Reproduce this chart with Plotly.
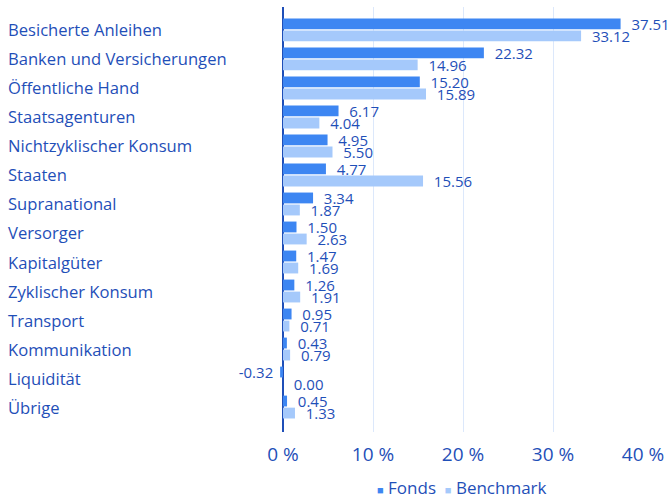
import plotly.graph_objects as go

categories = ["Besicherte Anleihen", "Banken und Versicherungen", "Öffentliche Hand",
              "Staatsagenturen", "Nichtzyklischer Konsum", "Staaten", "Supranational",
              "Versorger", "Kapitalgüter", "Zyklischer Konsum", "Transport",
              "Kommunikation", "Liquidität", "Übrige"]
fonds = [37.51, 22.32, 15.20, 6.17, 4.95, 4.77, 3.34, 1.50, 1.47, 1.26, 0.95, 0.43, -0.32, 0.45]
benchmark = [33.12, 14.96, 15.89, 4.04, 5.50, 15.56, 1.87, 2.63, 1.69, 1.91, 0.71, 0.79, 0.00, 1.33]
x_ticks = [0, 10, 20, 30, 40]
x_tick_labels = ["0 %", "10 %", "20 %", "30 %", "40 %"]

TXT = "#1f4fb8"
C_FONDS = "#3d86f2"
C_BENCH = "#a5c9fb"
FONT = "Open Sans"


def label(v):
    s = f"{v:.2f}"
    return (s + " ") if v < 0 else ("  " + s)


fig = go.Figure()
for name, vals, col in (("Fonds", fonds, C_FONDS), ("Benchmark", benchmark, C_BENCH)):
    fig.add_trace(go.Bar(
        y=categories, x=vals, orientation="h", name=name,
        marker=dict(color=col, line=dict(width=0)),
        text=[label(v) for v in vals], textposition="outside",
        textfont=dict(color=TXT, size=15, family=FONT), cliponaxis=False,
        constraintext="none", showlegend=False, hoverinfo="skip",
    ))

L, R, T, B = 280, 27, 7, 67
W, H = 670, 499
pw = W - L - R

for c in categories:
    fig.add_annotation(x=(6 - L) / pw, xref="paper", y=c, yref="y",
                       text=c, showarrow=False, xanchor="left",
                       font=dict(color=TXT, size=16.6, family=FONT))

legend_text = (f'<span style="color:{C_FONDS};font-size:11px">■</span> Fonds  '
               f'<span style="color:{C_BENCH};font-size:11px">■</span> Benchmark')
fig.add_annotation(x=(462 - L) / pw, xref="paper", y=-(487 - (H - B)) / (H - T - B),
                   yref="paper", text=legend_text, showarrow=False,
                   xanchor="center", yanchor="middle",
                   font=dict(color=TXT, size=17, family=FONT))

fig.update_layout(
    width=W, height=H,
    margin=dict(l=L, r=R, t=T, b=B, pad=0),
    paper_bgcolor="white", plot_bgcolor="white",
    barmode="group", bargap=0.17, bargroupgap=0.1,
    font=dict(family=FONT, color=TXT, size=16),
    showlegend=False,
    xaxis=dict(range=[-0.3333, 40], tickvals=x_ticks, ticktext=x_tick_labels,
               showgrid=True, gridcolor="#dce8fb", gridwidth=1,
               zeroline=True, zerolinecolor="#1f4fb8", zerolinewidth=1.5,
               showline=False, ticks="", ticklabelstandoff=9, automargin=False,
               tickfont=dict(size=19, color=TXT, family=FONT)),
    yaxis=dict(range=[13.86, -0.79], showticklabels=False, showgrid=False,
               zeroline=False, showline=False, ticks="", automargin=False),
)

fig.write_html("out.html", config={"displayModeBar": False},
               post_script="document.body.style.margin='0';document.body.style.overflow='hidden';")
